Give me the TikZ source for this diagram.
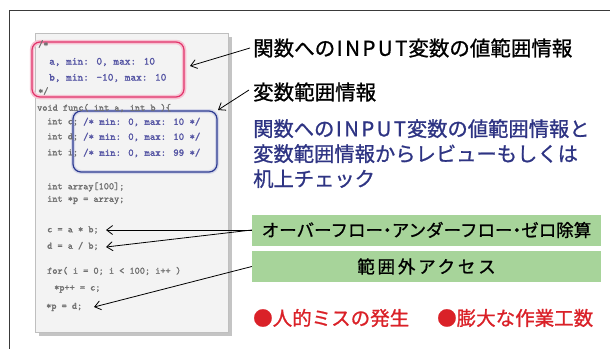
\documentclass[tikz,border=0pt]{standalone}
\usepackage{fontspec}
\setmainfont{Liberation Serif}
\newfontfamily\jp[FakeBold=1]{Noto Sans CJK JP}
\newfontfamily\codefont[FakeBold=1.6]{lmmono10-regular.otf}
\usetikzlibrary{arrows.meta}
\definecolor{framec}{HTML}{3A3A3A}
\definecolor{codec}{HTML}{707070}
\definecolor{cmtc}{HTML}{5656A4}
\definecolor{redboxc}{HTML}{E2336A}
\definecolor{blueboxc}{HTML}{2B3990}
\definecolor{bluetxt}{HTML}{2E3483}
\definecolor{greenc}{HTML}{A7D49A}
\definecolor{redtxt}{HTML}{DA2128}
\definecolor{panelc}{HTML}{F3F3F3}
\definecolor{shadowc}{HTML}{C4C4C4}
\newcommand{\wideINPUT}{\kern1.5pt{\addfontfeatures{LetterSpace=12}INPUT}\kern1pt}
\newcommand{\nbul}{\kern-0.25em・\kern-0.25em}
\tikzset{
  codeline/.style={anchor=west, inner sep=0pt, font=\codefont\fontsize{9.8}{10}\selectfont, text=codec},
  cmtline/.style={anchor=west, inner sep=0pt, font=\codefont\fontsize{10.3}{10}\selectfont, text=cmtc},
  redline/.style={anchor=west, inner sep=0pt, font=\codefont\fontsize{10.8}{10}\selectfont, text=cmtc},
  jpblack/.style={anchor=west, inner sep=0pt, font=\jp\fontsize{20.5}{24}\selectfont, text=black},
  jpblue/.style={anchor=west, inner sep=0pt, font=\jp\fontsize{20.3}{25}\selectfont, text=bluetxt, align=left},
  jpred/.style={anchor=west, inner sep=0pt, font=\jp\fontsize{19.5}{24}\selectfont, text=redtxt},
  greenbox/.style={fill=greenc, inner sep=0pt, minimum width=349pt, minimum height=31pt, font=\jp\fontsize{17.5}{22}\selectfont},
  ptr/.style={draw=black, line width=0.8pt, -{Straight Barb[length=6pt,width=9pt,line width=0.8pt]}},
}
\begin{document}
\begin{tikzpicture}[x=1pt,y=-1pt]
\useasboundingbox (0,0) rectangle (610,349);
% outer frame
\draw[framec, line width=0.9pt] (610,10) -- (9,10) -- (9,349);
% code panel
\fill[shadowc] (39,37) rectangle (232,336);
\node[fill=panelc, draw=gray!50, inner sep=0pt, minimum width=193pt, minimum height=299pt] (panel) at (131.5,183) {};
% highlight boxes
\node[draw=redboxc, line width=1.2pt, rounded corners=8pt, minimum width=152pt, minimum height=55pt, inner sep=0pt,
      preaction={draw=redboxc!30, line width=4.5pt}] (rbox) at (108,69.5) {};
\node[draw=blueboxc, line width=1.2pt, rounded corners=8pt, minimum width=144pt, minimum height=61pt, inner sep=0pt,
      preaction={draw=blueboxc!20, line width=4pt}] (bbox) at (145,141.5) {};
% code text
\node[codeline] (l1) at (38,44) {/*};
\node[redline] (l2) at (49,62) {a, min: 0, max: 10};
\node[redline] (l3) at (49,78) {b, min: -10, max: 10};
\node[codeline] (l4) at (38,91) {*/};
\node[codeline] (l5) at (37,108) {void func( int a, int b )\{};
\node[codeline] (l6) at (47,122) {int c;};
\node[codeline] (l7) at (47,137) {int d;};
\node[codeline] (l8) at (47,153) {int i;};
\node[cmtline] (c6) at (83,122) {/* min: 0, max: 10 */};
\node[cmtline] (c7) at (83,137) {/* min: 0, max: 10 */};
\node[cmtline] (c8) at (83,153) {/* min: 0, max: 99 */};
\node[codeline] (l9) at (47,187) {int array[100];};
\node[codeline] (l10) at (47,200) {int *p = array;};
\node[codeline] (l11) at (47,230) {c = a * b;};
\node[codeline] (l12) at (47,246) {d = a / b;};
\node[codeline] (l13) at (47,271) {for( i = 0; i < 100; i++ )};
\node[codeline] (l14) at (54,289) {*p++ = c;};
\node[codeline] (l15) at (46,307) {*p = d;};
% right side texts
\node[jpblack] (t1) at (253,48) {関数への\wideINPUT 変数の値範囲情報};
\node[jpblack] (t2) at (253,92) {変数範囲情報};
\node[jpblue, anchor=north west] (t3) at (253,119) {関数への\wideINPUT 変数の値範囲情報と\\変数範囲情報からレビューもしくは\\机上チェック};
\node[greenbox] (g1) at (426.5,230) {オーバーフロー\nbul アンダーフロー\nbul ゼロ除算};
\node[greenbox] (g2) at (426.5,266.5) {{\addfontfeatures{LetterSpace=16}範囲外アクセス}};
\node[jpred] (r1) at (253,318) {●人的ミスの発生};
\node[jpred] (r2) at (437,318) {●膨大な作業工数};
% arrow tip coordinates
\coordinate (a1) at (190,66);
\coordinate (a2) at (218,110);
\coordinate (a3) at (106,230);
\coordinate (a4) at (106,247);
\coordinate (a5) at (94,307);
% connectors
\draw[ptr] ([xshift=-3pt]t1.west) -- (a1);
\draw[ptr] ([xshift=-4pt,yshift=2pt]t2.west) -- (a2);
\draw[ptr] (g1.west) -- (a3);
\draw[ptr] (g1.west) -- (a4);
\draw[ptr] (g2.west) -- (a5);
\end{tikzpicture}
\end{document}
